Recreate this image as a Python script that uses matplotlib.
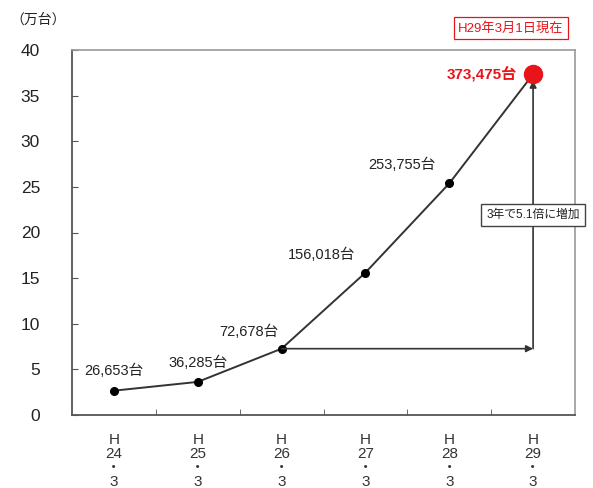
import matplotlib
matplotlib.use("Agg")
import matplotlib.pyplot as plt
import numpy as np

plt.rcParams['font.family'] = ['Liberation Sans', 'Noto Sans CJK JP', 'DejaVu Sans']

# Registered vehicles (units of 10,000)
periods = ["H\n24\n・\n3", "H\n25\n・\n3", "H\n26\n・\n3", "H\n27\n・\n3", "H\n28\n・\n3", "H\n29\n・\n3"]
values = [2.6653, 3.6285, 7.2678, 15.6018, 25.3755, 37.3475]
value_labels = ["26,653台", "36,285台", "72,678台", "156,018台", "253,755台", "373,475台"]

fig = plt.figure(figsize=(5.93, 4.88), dpi=100)
ax = fig.add_axes([72/593, 1-415/488, (575-72)/593, (415-50)/488])

x = np.arange(len(values))
ax.plot(x, values, color="#333333", lw=1.4, marker="o", ms=5.5, mfc="black", mec="black", zorder=3)
ax.plot(x[-1], values[-1], marker="o", ms=13, color="#e8141a", zorder=5)

ax.set_xlim(-0.5, 5.5)
ax.set_ylim(0, 40)
ax.set_yticks(np.arange(0, 41, 5))
ax.set_xticks(x)
ax.set_xticklabels(periods, fontsize=11, linespacing=1.0, color="#333333")
ax.set_xticks(np.arange(0.5, 5, 1), minor=True)
ax.tick_params(axis="x", which="major", length=0, pad=13)
ax.tick_params(axis="x", which="minor", direction="in", length=4, color="#555555")
ax.tick_params(axis="y", direction="in", length=4, labelsize=12.5, pad=23, color="#555555",
               labelcolor="#222222")
for lbl in ax.get_yticklabels():
    lbl.set_horizontalalignment("right")

for side in ["left", "bottom"]:
    ax.spines[side].set_color("#555555")
    ax.spines[side].set_linewidth(1.3)
for side in ["top", "right"]:
    ax.spines[side].set_color("#999999")
    ax.spines[side].set_linewidth(1.2)

# Value annotations
offsets = [(0, 2.2), (0, 2.1), (-0.39, 1.8), (-0.52, 2.0), (-0.57, 2.0)]
for i, (dx, dy) in enumerate(offsets):
    ax.text(x[i] + dx, values[i] + dy, value_labels[i], ha="center", va="center",
            fontsize=10.5, color="#222222")
ax.text(x[-1] - 0.19, values[-1] + 0.1, value_labels[-1], ha="right", va="center",
        fontsize=11, color="#e8141a", fontweight="bold")

# Growth arrows: across from H26, then up to H29
ax.annotate("", xy=(x[-1], values[2]), xytext=(x[2], values[2]),
            arrowprops=dict(arrowstyle="-|>", color="#333333", lw=1.2, mutation_scale=10,
                            shrinkA=0, shrinkB=0))
ax.annotate("", xy=(x[-1], values[-1] - 0.7), xytext=(x[-1], values[2]),
            arrowprops=dict(arrowstyle="-|>", color="#333333", lw=1.2, mutation_scale=10,
                            shrinkA=0, shrinkB=0), zorder=4)
ax.text(x[-1], 21.9, "3年で5.1倍に増加", ha="center", va="center", fontsize=8.5,
        color="#222222", zorder=6,
        bbox=dict(boxstyle="square,pad=0.45", fc="white", ec="#444444", lw=1.0))

fig.text(10/593, 1-20/488, "（万台）", ha="left", va="center", fontsize=10, color="#222222")
fig.text(511/593, 1-28/488, "H29年3月1日現在", ha="center", va="center", fontsize=9.5,
         color="#e8141a",
         bbox=dict(boxstyle="square,pad=0.35", fc="white", ec="#e8141a", lw=0.9))

fig.savefig("out.png", dpi=100)
